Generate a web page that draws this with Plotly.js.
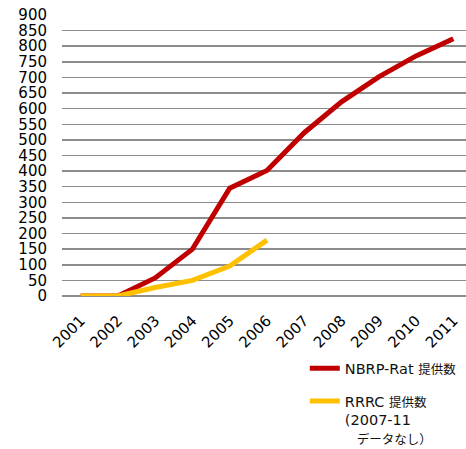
<!DOCTYPE html>
<html>
<head>
<meta charset="utf-8">
<script src="https://cdn.plot.ly/plotly-3.0.1.min.js"></script>
<style>html,body{margin:0;padding:0;background:#fff;}#chart{width:466px;height:449px;}</style>
</head>
<body>
<div id="chart"></div>
<script>
var years = ['2001','2002','2003','2004','2005','2006','2007','2008','2009','2010','2011'];
var nbrpRat = [0, 0, 58, 150, 345, 402, 523, 622, 702, 769, 824];
var rrrcYears = ['2001','2002','2003','2004','2005','2006'];
var rrrc = [0, 0, 27, 50, 96, 179];
var yTicks = [0,50,100,150,200,250,300,350,400,450,500,550,600,650,700,750,800,850,900];

var cjk = function (s) { return "<span style='font-size:12.5px'>" + s + "</span>"; };
var traces = [
  {x: years, y: nbrpRat, type: 'scatter', mode: 'lines',
   name: "NBRP-Rat " + cjk("提供数"), legendgroup: 'a',
   line: {color: '#C00000', width: 5}},
  {x: rrrcYears, y: rrrc, type: 'scatter', mode: 'lines',
   name: "RRRC " + cjk("提供数") + "<br>(2007-11<br>\u2002 " + cjk("データなし）"), legendgroup: 'b',
   line: {color: '#FFC000', width: 5}}
];

var layout = {
  width: 466, height: 449,
  margin: {l: 62, r: 0, t: 15, b: 152.5, autoexpand: false},
  paper_bgcolor: '#fff', plot_bgcolor: '#fff',
  font: {family: 'DejaVu Sans, Noto Sans CJK JP, sans-serif', size: 15, color: '#000'},
  xaxis: {type: 'category', range: [-0.5, 10.34], tickangle: -45, showgrid: false,
          zeroline: false, showline: false, ticks: '', ticklabelstandoff: 12,
          tickfont: {size: 15}, automargin: false},
  yaxis: {range: [0, 900], tickvals: yTicks, ticktext: yTicks.map(String),
          showgrid: true, gridcolor: '#8c8c8c', gridwidth: 1.5,
          zeroline: true, zerolinecolor: '#8c8c8c', zerolinewidth: 1.5,
          showline: false, ticks: '', ticklabelstandoff: 14, tickfont: {size: 15}, automargin: false},
  showlegend: true,
  legend: {x: 0.601, y: -0.2, xanchor: 'left', yanchor: 'top', valign: 'top',
           tracegroupgap: 11, font: {size: 14.5, family: 'DejaVu Sans, Noto Sans CJK JP, sans-serif', color: '#111'},
           bgcolor: 'rgba(0,0,0,0)'}
};

Plotly.newPlot('chart', traces, layout, {displayModeBar: false, staticPlot: true});
</script>
</body>
</html>
